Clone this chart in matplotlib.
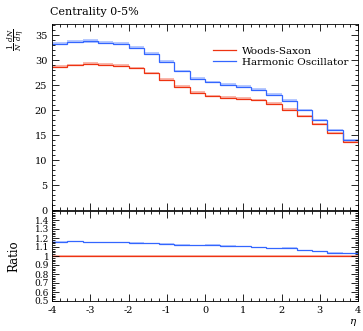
import numpy as np
import matplotlib
matplotlib.use("Agg")
import matplotlib.pyplot as plt
from matplotlib.ticker import MultipleLocator

plt.rcParams['font.family'] = ['DejaVu Serif']
plt.rcParams['mathtext.fontset'] = 'dejavuserif'
plt.rcParams['axes.unicode_minus'] = False

edges = np.linspace(-4, 4, 21)
woods_saxon = [28.7, 29.0, 29.3, 29.1, 28.9, 28.4, 27.4, 26.1, 24.7, 23.5,
               22.8, 22.5, 22.3, 22.0, 21.3, 20.1, 18.8, 17.2, 15.5, 13.7]
harmonic_osc = [33.3, 33.7, 33.8, 33.5, 33.3, 32.5, 31.3, 29.7, 27.8, 26.3,
                25.6, 25.1, 24.7, 24.1, 23.1, 21.9, 20.0, 18.1, 16.1, 14.1]
labels = ["Woods-Saxon", "Harmonic Oscillator"]
colors = ["#EE3311", "#3366FF"]

W, H = 363, 331
fig = plt.figure(figsize=(W/100, H/100), dpi=100)
def rect(x0, y0, x1, y1):
    return [x0/W, 1-y1/H, (x1-x0)/W, (y1-y0)/H]
ax = fig.add_axes(rect(52, 24, 358, 210))
axr = fig.add_axes(rect(52, 211, 358, 301), sharex=ax)

series = [woods_saxon, harmonic_osc]
ref = np.array(woods_saxon)
for vals, lab, c in zip(series, labels, colors):
    v = np.array(vals)
    vv = np.append(v, v[-1])
    ax.fill_between(edges, vv*0.99, vv*1.01, step='post', color=c, alpha=0.35, lw=0)
    ax.stairs(v, edges, color=c, lw=0.9, label=lab, baseline=None)
    r = v/ref
    rr = np.append(r, r[-1])
    axr.fill_between(edges, rr-0.006, rr+0.006, step='post', color=c, alpha=0.35, lw=0)
    axr.stairs(r, edges, color=c, lw=0.9, baseline=None)

ax.set_xlim(-4, 4)
ax.set_ylim(0, 37.2)
axr.set_ylim(0.5, 1.5)

for a in (ax, axr):
    a.tick_params(which='both', direction='in', top=True, right=True, labelsize=7, width=0.6)
    a.tick_params(which='major', length=5)
    a.tick_params(which='minor', length=2.5)
    a.xaxis.set_major_locator(MultipleLocator(1))
    a.xaxis.set_minor_locator(MultipleLocator(0.2))
    for s in a.spines.values():
        s.set_linewidth(0.6)
ax.yaxis.set_major_locator(MultipleLocator(5))
ax.yaxis.set_minor_locator(MultipleLocator(1))
ax.tick_params(labelbottom=False)
axr.yaxis.set_minor_locator(MultipleLocator(0.02))
ticks_r = np.round(np.arange(0.5, 1.41, 0.1), 1)
axr.set_yticks(ticks_r)
axr.set_yticklabels([f"{t:g}" for t in ticks_r])
axr.tick_params(axis='y', labelsize=6.5, pad=2)

ax.legend(loc='upper right', bbox_to_anchor=(1.0, 0.93), frameon=False, fontsize=7.5,
          handlelength=2.2, handletextpad=0.6, labelspacing=0.2)

fig.text(50/W, 1-12/H, "Centrality 0-5%", fontsize=8, va='center', ha='left')
fig.text(16/W, 1-40/H, r"$\frac{1}{N}\,\frac{dN}{d\eta}$", fontsize=7.5, rotation=90,
         va='center', ha='center')
fig.text(14/W, 1-256/H, "Ratio", fontsize=8.5, rotation=90, va='center', ha='center')
fig.text(357/W, 1-322/H, r"$\eta$", fontsize=7.5, va='center', ha='right')

fig.savefig("out.png", dpi=100)
